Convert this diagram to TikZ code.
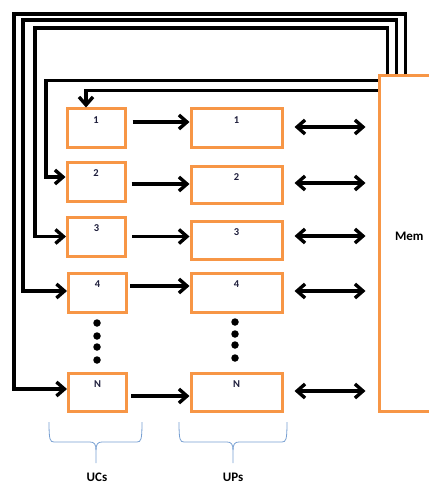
\documentclass[tikz,border=0pt]{standalone}
\usepackage{fontspec}
\setmainfont{Carlito}
\usetikzlibrary{arrows.meta}
\definecolor{boxorange}{RGB}{247,150,70}
\definecolor{braceblue}{RGB}{120,160,210}
\definecolor{numblue}{RGB}{30,30,60}

% curly bracket under a column: left x, tip x, right x
\newcommand{\ubrace}[3]{%
	\draw[braceblue, line width=0.8pt] (#1,422) .. controls (#1,440) and (#1+1,442) .. (#1+5,442) -- (#2-6,442)
		.. controls (#2-2,442) and (#2,444) .. (#2,450) -- (#2,463);
	\draw[braceblue, line width=0.8pt] (#3,422) .. controls (#3,440) and (#3-1,442) .. (#3-5,442) -- (#2+6,442)
		.. controls (#2+2,442) and (#2,444) .. (#2,450);
}

\begin{document}
\begin{tikzpicture}[x=1pt, y=-1pt,
	uc/.style={draw=boxorange, line width=3pt, minimum width=58pt, minimum height=38pt, inner sep=0pt},
	up/.style={draw=boxorange, line width=3pt, minimum width=91pt, minimum height=38pt, inner sep=0pt},
	num/.style={anchor=north, yshift=-9pt, inner sep=0pt, text=numblue, font=\bfseries\fontsize{10.5}{10.5}\selectfont},
	flow/.style={black, line width=3.4pt, -{Straight Barb[length=8pt, width=14pt]}},
	both/.style={black, line width=3.4pt, {Straight Barb[length=8pt, width=14pt]}-{Straight Barb[length=8pt, width=14pt]}},
	dot/.style={circle, fill=black, inner sep=0pt, minimum size=7.5pt},
	tag/.style={font=\bfseries\fontsize{13}{13}\selectfont}]
	\useasboundingbox (0,0) rectangle (428,484);

	\node[uc, label={[num]north:1}] (C1) at (96,128) {};
	\node[uc, minimum height=39pt, label={[num]north:2}] (C2) at (96,181.5) {};
	\node[uc, minimum height=39pt, label={[num]north:3}] (C3) at (96.5,236.5) {};
	\node[uc, minimum height=39pt, label={[num]north:4}] (C4) at (97.5,292.5) {};
	\node[uc, label={[num]north:N}] (CN) at (97.5,392) {};

	\node[up, label={[num]north:1}] (P1) at (236.5,128) {};
	\node[up, minimum height=37pt, label={[num]north:2}] (P2) at (236.5,184.5) {};
	\node[up, label={[num]north:3}] (P3) at (236.5,240) {};
	\node[up, minimum height=39pt, label={[num]north:4}] (P4) at (236.5,292.5) {};
	\node[up, label={[num]north:N}] (PN) at (236.5,392) {};

	\node[draw=boxorange, line width=3pt, minimum width=100pt, minimum height=335pt,
		label={[tag, anchor=west, xshift=14pt, yshift=7pt]west:Mem}] (M) at (429,243.5) {};

	\foreach \y [count=\i] in {323,336,347,360}
		\node[dot] (a\i) at (97,\y) {};
	\foreach \y [count=\i] in {322,334,345,358}
		\node[dot] (b\i) at (235,\y) {};

	\draw[flow] ([shift={(6,-6)}]C1.east) coordinate (t) -- (t -| P1.west);
	\draw[flow] ([shift={(5,2.5)}]C2.east) coordinate (t) -- (t -| P2.west);
	\draw[flow] ([shift={(5,0)}]C3.east) coordinate (t) -- (t -| P3.west);
	\draw[flow] ([shift={(2,-6.5)}]C4.east) coordinate (t) -- (t -| P4.west);
	\draw[flow] ([shift={(3,4)}]CN.east) coordinate (t) -- (t -| PN.west);

	\draw[both, shorten >=12pt] ([shift={(11,-1)}]P1.east) coordinate (t) -- (t -| M.west);
	\draw[both, shorten >=12pt] ([shift={(11,-1.5)}]P2.east) coordinate (t) -- (t -| M.west);
	\draw[both, shorten >=12pt] ([shift={(11,-4)}]P3.east) coordinate (t) -- (t -| M.west);
	\draw[both, shorten >=12pt] ([shift={(11,-1.5)}]P4.east) coordinate (t) -- (t -| M.west);
	\draw[both, shorten >=12pt] ([shift={(11,-1)}]PN.east) coordinate (t) -- (t -| M.west);

	% feedback paths from Mem back to the UCs
	\coordinate (K5) at (14,14);
	\coordinate (K4) at (23,20);
	\coordinate (K3) at (35,28);
	\coordinate (K2) at (46,177);
	\draw[flow] ([xshift=28pt]M.north west) |- (K5) |- ([yshift=3pt]CN.west);
	\draw[flow] ([xshift=19pt]M.north west) |- (K4) |- ([yshift=1.5pt]C4.west);
	\draw[flow] ([xshift=10pt]M.north west) |- (K3) |- (C3.west);
	\draw[flow] ([yshift=-6pt]M.north west) -| (K2) -- (K2 -| C2.west);
	\draw[flow] ([yshift=-16pt]M.north west) -| ([xshift=-10pt]C1.north);

	\ubrace{49}{96}{142}
	\ubrace{179}{233}{287}
	\node[tag, anchor=base] (uc) at (97,481) {UCs};
	\node[tag, anchor=base] (up) at (233,481) {UPs};
\end{tikzpicture}
\end{document}
